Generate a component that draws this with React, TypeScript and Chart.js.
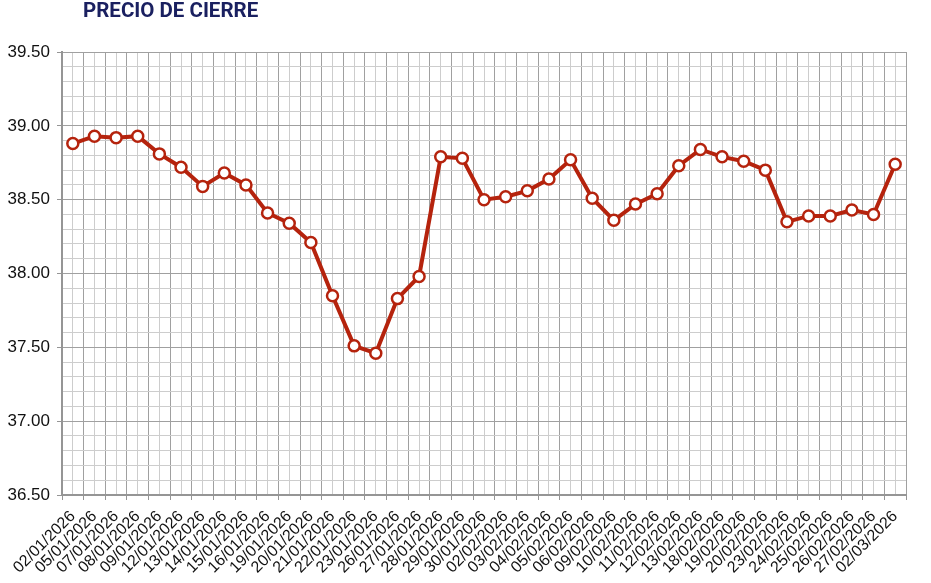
import React, { useEffect, useRef } from "react";
import { Chart, registerables } from "chart.js";

Chart.register(...registerables);

const TITLE = "PRECIO DE CIERRE";

const categories: string[] = [
  "02/01/2026", "05/01/2026", "07/01/2026", "08/01/2026", "09/01/2026",
  "12/01/2026", "13/01/2026", "14/01/2026", "15/01/2026", "16/01/2026",
  "19/01/2026", "20/01/2026", "21/01/2026", "22/01/2026", "23/01/2026",
  "26/01/2026", "27/01/2026", "28/01/2026", "29/01/2026", "30/01/2026",
  "02/02/2026", "03/02/2026", "04/02/2026", "05/02/2026", "06/02/2026",
  "09/02/2026", "10/02/2026", "11/02/2026", "12/02/2026", "13/02/2026",
  "18/02/2026", "19/02/2026", "20/02/2026", "23/02/2026", "24/02/2026",
  "25/02/2026", "26/02/2026", "27/02/2026", "02/03/2026",
];

const closePrices: number[] = [
  38.88, 38.93, 38.92, 38.93, 38.81,
  38.72, 38.59, 38.68, 38.60, 38.41,
  38.34, 38.21, 37.85, 37.51, 37.46,
  37.83, 37.98, 38.79, 38.78, 38.50,
  38.52, 38.56, 38.64, 38.77, 38.51,
  38.36, 38.47, 38.54, 38.73, 38.84,
  38.79, 38.76, 38.70, 38.35, 38.39,
  38.39, 38.43, 38.40, 38.74,
];

const Y_MIN = 36.5;
const Y_MAX = 39.5;
const Y_MINOR_STEP = 0.1;
const Y_MAJOR_STEP = 0.5;

const LINE_COLOR = "#b5230d";
const MAJOR_GRID = "#a0a0a0";
const MINOR_GRID = "#cdcdcd";
const AXIS_COLOR = "#959595";

const isMajor = (v: number) =>
  Math.abs(v / Y_MAJOR_STEP - Math.round(v / Y_MAJOR_STEP)) < 1e-6;

export default function App() {
  const canvasRef = useRef<HTMLCanvasElement | null>(null);

  useEffect(() => {
    if (!canvasRef.current) return;
    const chart = new Chart(canvasRef.current, {
      type: "line",
      data: {
        labels: categories,
        datasets: [
          {
            label: TITLE,
            data: closePrices,
            borderColor: LINE_COLOR,
            borderWidth: 4,
            tension: 0,
            pointRadius: 5.5,
            pointBorderWidth: 2.5,
            pointBackgroundColor: "#ffffff",
            pointBorderColor: LINE_COLOR,
            fill: false,
            xAxisID: "x",
            yAxisID: "y",
          },
        ],
      },
      options: {
        responsive: false,
        animation: false,
        layout: { padding: { top: 52, right: 25, left: 0, bottom: 0 } },
        plugins: {
          legend: { display: false },
          title: { display: false },
          tooltip: { enabled: false },
        },
        scales: {
          x2: {
            type: "category",
            labels: categories,
            position: "top",
            offset: true,
            grid: {
              offset: false,
              color: MINOR_GRID,
              lineWidth: 1,
              drawTicks: false,
            },
            border: { display: false },
            ticks: { display: false },
            afterFit: (s: any) => {
              s.height = 0;
            },
          },
          x: {
            type: "category",
            position: "bottom",
            offset: true,
            grid: {
              offset: true,
              color: MAJOR_GRID,
              lineWidth: 1,
              tickLength: 5,
              tickColor: AXIS_COLOR,
            },
            border: { display: true, color: AXIS_COLOR, width: 2 },
            ticks: {
              autoSkip: false,
              maxRotation: 45,
              minRotation: 45,
              padding: 7,
              color: "#111111",
              font: { family: "'Liberation Sans', Arial, sans-serif", size: 16 },
            },
            afterFit: (s: any) => {
              s.height = 88;
            },
          },
          y: {
            type: "linear",
            min: Y_MIN,
            max: Y_MAX,
            grid: {
              color: (ctx: any) =>
                ctx.tick && isMajor(ctx.tick.value) ? MAJOR_GRID : MINOR_GRID,
              tickColor: (ctx: any) =>
                ctx.tick && isMajor(ctx.tick.value) ? AXIS_COLOR : "rgba(0,0,0,0)",
              lineWidth: 1,
              tickLength: 5,
            },
            border: { display: true, color: AXIS_COLOR, width: 2 },
            ticks: {
              stepSize: Y_MINOR_STEP,
              autoSkip: false,
              padding: 7,
              color: "#111111",
              font: { family: "'Liberation Sans', Arial, sans-serif", size: 17 },
              callback: (v: any) => {
                const n = Number(v);
                return isMajor(n) ? n.toFixed(2) : "";
              },
            },
            afterFit: (s: any) => {
              s.width = 62;
            },
          },
        },
      },
    });
    return () => chart.destroy();
  }, []);

  return (
    <div
      style={{
        position: "absolute",
        left: 0,
        top: 0,
        width: 931,
        height: 583,
        background: "#ffffff",
      }}
    >
      <div
        style={{
          position: "absolute",
          left: 83,
          top: 0,
          fontFamily: "Roboto, 'Liberation Sans', sans-serif",
          fontWeight: 700,
          fontSize: 20.5,
          lineHeight: "20px",
          color: "#1a2060",
          whiteSpace: "nowrap",
        }}
      >
        {TITLE}
      </div>
      <canvas ref={canvasRef} width={931} height={583} />
    </div>
  );
}
